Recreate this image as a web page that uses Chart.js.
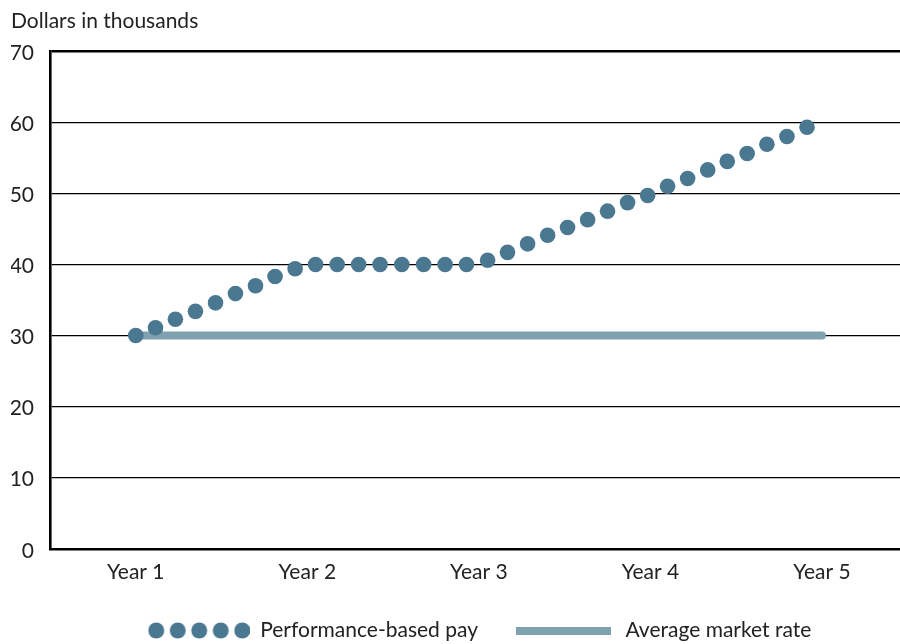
<!DOCTYPE html>
<html>
<head>
<meta charset="utf-8">
<script src="https://cdn.jsdelivr.net/npm/chart.js@4"></script>
<style>
  html, body { margin: 0; padding: 0; background: #fff; }
  #wrap { width: 900px; height: 644px; }
</style>
</head>
<body>
<div id="wrap"><canvas id="payChart" width="900" height="644"></canvas></div>
<script>
// x axis labels
const years = ['Year 1', 'Year 2', 'Year 3', 'Year 4', 'Year 5'];
const yearTicks = [1, 2, 3, 4, 5];

// performance-based pay, positions in years and values in thousands
const payX = [1.000, 1.115, 1.231, 1.348, 1.465, 1.581, 1.698, 1.812, 1.929, 2.048,
  2.174, 2.299, 2.424, 2.551, 2.678, 2.803, 2.928, 3.051, 3.167, 3.284,
  3.401, 3.517, 3.634, 3.750, 3.867, 3.984, 4.100, 4.217, 4.334, 4.448,
  4.564, 4.679, 4.796, 4.913];
const payY = [30.0, 31.1, 32.3, 33.4, 34.6, 35.9, 37.0, 38.3, 39.4, 40.0,
  40.0, 40.0, 40.0, 40.0, 40.0, 40.0, 40.0, 40.6, 41.7, 42.9,
  44.1, 45.2, 46.3, 47.5, 48.7, 49.7, 51.0, 52.1, 53.3, 54.5,
  55.6, 56.9, 58.0, 59.3];

// average market rate
const marketX = [1, 5];
const marketY = [30, 30];

const yTicks = [0, 10, 20, 30, 40, 50, 60, 70];

const dotColor = '#4b7891';
const lineColor = '#7fa1b0';
const textColor = '#222222';

Chart.defaults.font.family = 'Lato, "Noto Sans", sans-serif';
Chart.defaults.font.size = 21;
Chart.defaults.color = textColor;

// legend swatches: a row of five dots, and a thick bar
function dotsSwatch() {
  const c = document.createElement('canvas');
  c.width = 102; c.height = 17;
  const g = c.getContext('2d');
  g.fillStyle = dotColor;
  for (let i = 0; i < 5; i++) {
    g.beginPath();
    g.arc(8.5 + i * 21.5, 8.5, 8, 0, Math.PI * 2);
    g.fill();
  }
  return c;
}
function barSwatch() {
  const c = document.createElement('canvas');
  c.width = 95; c.height = 8;
  const g = c.getContext('2d');
  g.fillStyle = lineColor;
  g.fillRect(0, 0, 95, 8);
  return c;
}
const swatches = [dotsSwatch(), barSwatch()];

// move the legend row a bit right and up, as in the original
const legendShift = {
  id: 'legendShift',
  afterLayout(c) {
    const lg = c.legend;
    if (!lg) return;
    lg.left += 4.5;
    lg.right += 4.5;
    lg.top -= 10;
    lg.bottom -= 10;
  }
};

const ctx = document.getElementById('payChart').getContext('2d');
const chart = new Chart(ctx, {
  type: 'line',
  data: {
    datasets: [
      {
        label: 'Performance-based pay',
        data: payX.map((x, i) => ({ x: x, y: payY[i] })),
        showLine: false,
        pointRadius: 7.8,
        pointHoverRadius: 7.8,
        pointBackgroundColor: dotColor,
        pointBorderWidth: 0,
        backgroundColor: dotColor,
        borderColor: dotColor,
        clip: false
      },
      {
        label: 'Average market rate',
        data: marketX.map((x, i) => ({ x: x, y: marketY[i] })),
        borderColor: lineColor,
        backgroundColor: lineColor,
        borderWidth: 8,
        borderCapStyle: 'round',
        pointRadius: 0,
        pointHoverRadius: 0
      }
    ]
  },
  plugins: [legendShift],
  options: {
    responsive: false,
    animation: false,
    layout: {
      autoPadding: false,
      padding: { left: 11, right: 0, top: 4, bottom: -17 }
    },
    scales: {
      x: {
        type: 'linear',
        min: 0.5,
        max: 5.455,
        afterBuildTicks: (scale) => {
          scale.ticks = yearTicks.map(v => ({ value: v }));
        },
        afterFit: (scale) => {
          scale.paddingLeft = 0;
          scale.paddingRight = 0;
        },
        ticks: {
          autoSkip: false,
          maxRotation: 0,
          padding: 10.5,
          color: textColor,
          callback: (v) => years[yearTicks.indexOf(v)] || ''
        },
        grid: { display: false, drawTicks: false },
        border: { display: true, color: '#000', width: 2.6 }
      },
      y: {
        min: 0,
        max: 70,
        afterBuildTicks: (scale) => {
          scale.ticks = yTicks.map(v => ({ value: v }));
        },
        afterFit: (scale) => {
          scale.width = 39;
        },
        ticks: {
          padding: 16,
          labelOffset: 2,
          color: textColor
        },
        grid: {
          color: '#000',
          lineWidth: (c) => (c.tick && c.tick.value === 70 ? 2.4 : 1.3),
          drawTicks: false
        },
        border: { display: true, color: '#000', width: 2.6 }
      }
    },
    plugins: {
      title: {
        display: true,
        text: 'Dollars in thousands',
        align: 'start',
        color: textColor,
        font: { size: 21, weight: 'normal' },
        padding: { top: 5, bottom: 17 }
      },
      legend: {
        position: 'bottom',
        fullSize: false,
        labels: {
          usePointStyle: true,
          pointStyleWidth: 102,
          padding: 35,
          color: textColor,
          generateLabels: (c) => c.data.datasets.map((ds, i) => ({
            text: ds.label,
            pointStyle: swatches[i],
            datasetIndex: i,
            hidden: false,
            fontColor: textColor,
            lineWidth: 0,
            strokeStyle: 'rgba(0,0,0,0)',
            fillStyle: 'rgba(0,0,0,0)'
          }))
        }
      },
      tooltip: { enabled: false }
    }
  }
});
</script>
</body>
</html>
